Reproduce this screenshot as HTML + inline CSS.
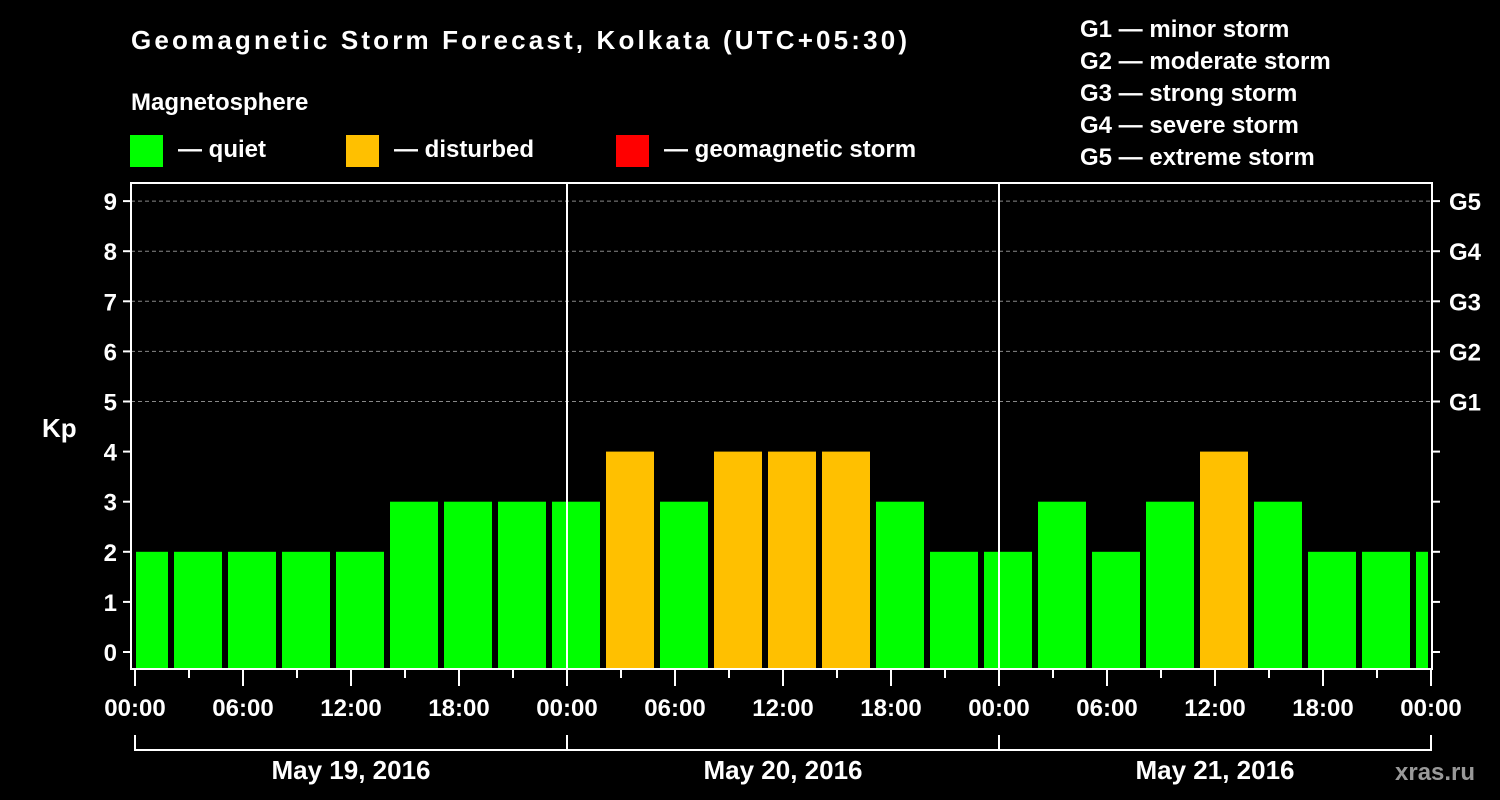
<!DOCTYPE html>
<html><head><meta charset="utf-8"><style>
html,body{margin:0;padding:0;background:#000;}
svg{display:block;font-family:"Liberation Sans",Arial,sans-serif;font-weight:bold;}
</style></head><body>
<svg id="chart" width="1500" height="800" viewBox="0 0 1500 800" xmlns="http://www.w3.org/2000/svg">
<rect width="1500" height="800" fill="#000"/>
<text x="131" y="49" fill="#fff" font-size="26" textLength="776">Geomagnetic Storm Forecast, Kolkata (UTC+05:30)</text>
<text x="131" y="110" fill="#fff" font-size="24">Magnetosphere</text>
<g><rect x="130" y="135" width="33" height="32" fill="#00ff00"/><text x="178" y="157" fill="#fff" font-size="24">— quiet</text></g>
<g><rect x="346" y="135" width="33" height="32" fill="#ffc000"/><text x="394" y="157" fill="#fff" font-size="24">— disturbed</text></g>
<g><rect x="616" y="135" width="33" height="32" fill="#ff0000"/><text x="664" y="157" fill="#fff" font-size="24">— geomagnetic storm</text></g>
<g fill="#fff" font-size="24">
<text x="1080" y="37">G1 — minor storm</text>
<text x="1080" y="69">G2 — moderate storm</text>
<text x="1080" y="101">G3 — strong storm</text>
<text x="1080" y="133">G4 — severe storm</text>
<text x="1080" y="165">G5 — extreme storm</text>
</g>
<text x="42" y="437" fill="#fff" font-size="26">Kp</text>
<g id="grid"></g>
<g id="bars"></g>
<g id="axes"></g>
<text x="1395" y="780" fill="#999" font-size="24">xras.ru</text>
</svg>
<script>
const kpValues=[2,2,2,2,2,3,3,3,3,4,3,4,4,4,3,2,2,3,2,3,4,3,2,2,2];
const yTicks=[0,1,2,3,4,5,6,7,8,9];
const gLabels=["G1","G2","G3","G4","G5"];
const xTickLabels=["00:00","06:00","12:00","18:00","00:00","06:00","12:00","18:00","00:00","06:00","12:00","18:00","00:00"];
const dayLabels=["May 19, 2016","May 20, 2016","May 21, 2016"];
const NS="http://www.w3.org/2000/svg";
const X0=135, PX_H=18, Y0=652, PX_K=50.1, TOP=183, BOT=669, LEFT=131, RIGHT=1432, FIRST_OFFSET=-1;
const xs=h=>X0+h*PX_H, ys=k=>Y0-k*PX_K;
function mk(tag,attrs,parent,txt){const e=document.createElementNS(NS,tag);for(const k in attrs)e.setAttribute(k,attrs[k]);if(txt!==undefined)e.textContent=txt;parent.appendChild(e);return e;}
const grid=document.getElementById('grid'),bars=document.getElementById('bars'),axes=document.getElementById('axes');
for(let k=5;k<=9;k++){const l=mk('line',{x1:LEFT,x2:RIGHT,y1:ys(k),y2:ys(k),stroke:'#888','stroke-dasharray':'4,3','stroke-width':1},grid);

}
kpValues.forEach((v,i)=>{let a=xs(FIRST_OFFSET+3*i)+3,b=xs(FIRST_OFFSET+3*i+3)-3;a=Math.max(a,X0+1);b=Math.min(b,RIGHT-4);
const r=mk('rect',{x:a,y:ys(v),width:b-a,height:BOT-ys(v),fill:v>=5?'#ff0000':(v>=4?'#ffc000':'#00ff00')},bars);

});
[1,2].forEach(d=>{const l=mk('line',{x1:xs(24*d),x2:xs(24*d),y1:TOP,y2:BOT,stroke:'#fff','stroke-width':2},axes);

});
mk('rect',{x:LEFT,y:TOP,width:RIGHT-LEFT,height:BOT-TOP,fill:'none',stroke:'#fff','stroke-width':2},axes);
yTicks.forEach(k=>{mk('line',{x1:LEFT-8,x2:LEFT,y1:ys(k),y2:ys(k),stroke:'#fff','stroke-width':2},axes);
mk('line',{x1:RIGHT,x2:RIGHT+8,y1:ys(k),y2:ys(k),stroke:'#fff','stroke-width':2},axes);
const t=mk('text',{x:LEFT-14,y:ys(k)+9,fill:'#fff','font-size':24,'text-anchor':'end'},axes,String(k));

});
gLabels.forEach((g,i)=>{const t=mk('text',{x:RIGHT+17,y:ys(5+i)+9,fill:'#fff','font-size':24},axes,g);

});
for(let h=0;h<=72;h+=3){const maj=h%6===0;mk('line',{x1:xs(h),x2:xs(h),y1:BOT,y2:BOT+(maj?17:9),stroke:'#fff','stroke-width':2},axes);}
xTickLabels.forEach((s,i)=>{const t=mk('text',{x:xs(6*i),y:716,fill:'#fff','font-size':24,'text-anchor':'middle'},axes,s);

});
dayLabels.forEach((s,d)=>{const a=xs(24*d),b=xs(24*d+24);
mk('path',{d:`M${a},735V750H${b}V735`,fill:'none',stroke:'#fff','stroke-width':2},axes);
const t=mk('text',{x:(a+b)/2,y:779,fill:'#fff','font-size':26,'text-anchor':'middle'},axes,s);

});
</script>
</body></html>
